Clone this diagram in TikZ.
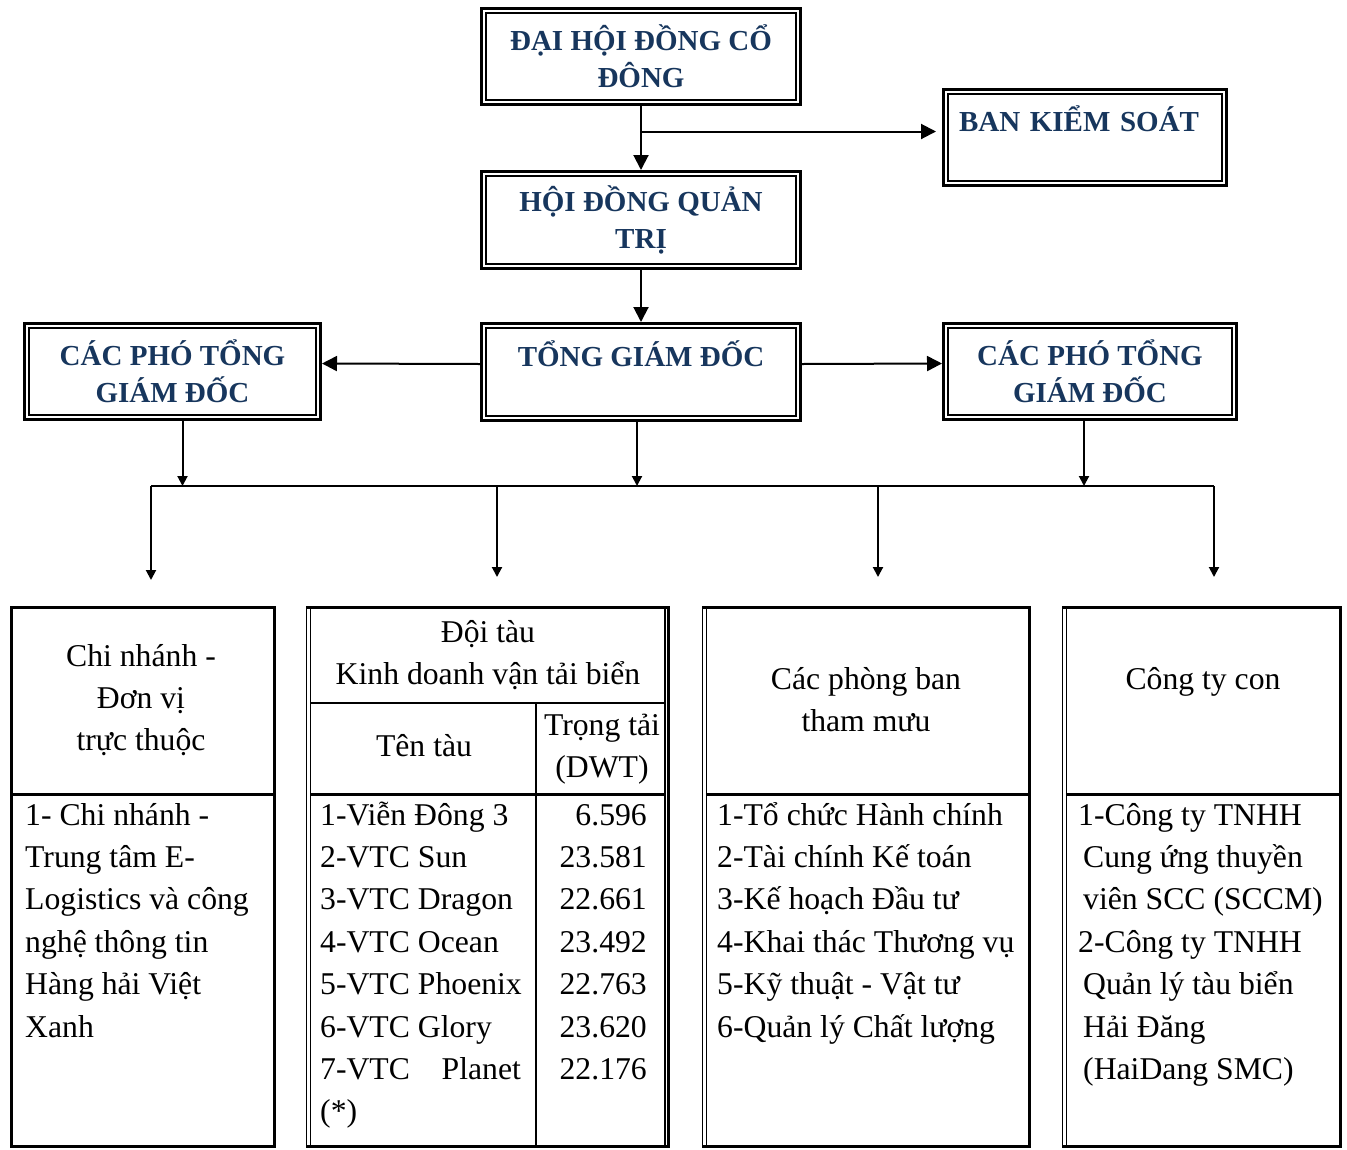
\documentclass[tikz,border=0pt]{standalone}
\usepackage{fontspec}
\setmainfont{Liberation Serif}
\usetikzlibrary{arrows.meta}
\definecolor{hdblue}{RGB}{23,54,93}
\newcommand{\hdfont}{\fontsize{29}{37}\selectfont\bfseries}
\newcommand{\bodyfont}{\fontsize{31.7}{42.4}\selectfont}

\begin{document}
\begin{tikzpicture}[x=1pt, y=-1pt,
  orgbox/.style={draw, line width=3pt, inner sep=0pt, align=center,
    font=\hdfont, text=hdblue,
    path picture={\draw[line width=1.3pt]
      ([shift={(4.5pt,4.5pt)}]path picture bounding box.south west) rectangle
      ([shift={(-4.5pt,-4.5pt)}]path picture bounding box.north east);}},
  arr/.style={line width=2pt, -{Triangle[length=15pt,width=15pt]}},
  arrsmall/.style={line width=2pt, -{Triangle[length=10pt,width=10pt]}},
  thickln/.style={line width=3pt},
  thinln/.style={line width=1.3pt},
  midln/.style={line width=2pt},
  cell/.style={font=\bodyfont, inner sep=0pt},
]
\useasboundingbox (0,0) rectangle (1347,1149);

% cap tren
\node[orgbox, minimum width=319pt, minimum height=96pt] (dhdcd) at (641,56.5) {ĐẠI HỘI ĐỒNG CỔ\\ĐÔNG};
\node[orgbox, minimum width=283pt, minimum height=96pt, text width=252pt, align=left] (bks) at (1085,137.5) {BAN KIỂM SOÁT\\~};
\node[orgbox, minimum width=319pt, minimum height=97pt] (hdqt) at (641,220) {HỘI ĐỒNG QUẢN\\TRỊ};
\node[orgbox, minimum width=319pt, minimum height=97pt] (tgd) at (641,372) {TỔNG GIÁM ĐỐC\\~};
\node[orgbox, minimum width=296pt, minimum height=96pt] (ptgdl) at (172.5,371.5) {CÁC PHÓ TỔNG\\GIÁM ĐỐC};
\node[orgbox, minimum width=293pt, minimum height=96pt] (ptgdr) at (1090,371.5) {CÁC PHÓ TỔNG\\GIÁM ĐỐC};

\draw[arr] (dhdcd.south) -- (hdqt.north);
\draw[arr, shorten >=6pt] ([yshift=6pt]dhdcd.south |- bks.west) -- ([yshift=6pt]bks.west);
\draw[arr] (hdqt.south) -- (tgd.north);
\draw[arr] ([yshift=8pt]tgd.west) -- ([yshift=8pt]ptgdl.east);
\draw[arr] ([yshift=8pt]tgd.east) -- ([yshift=8pt]ptgdr.west);

% thanh ngang
\coordinate (busl) at (151,486);
\coordinate (busr) at (1214,486);
\draw[midln] (busl) -- (busr);
\draw[arrsmall] ([xshift=10pt]ptgdl.south) -- ([xshift=10pt]ptgdl.south |- busl);
\draw[arrsmall] ([xshift=-4pt]tgd.south) -- ([xshift=-4pt]tgd.south |- busl);
\draw[arrsmall] ([xshift=-6pt]ptgdr.south) -- ([xshift=-6pt]ptgdr.south |- busl);

\coordinate (dcn) at (151,580);
\coordinate (ddt) at (497,577);
\coordinate (dpb) at (878,577);
\coordinate (dct) at (1214,577);
\draw[arrsmall] (busl) -- (dcn);
\draw[arrsmall] (ddt |- busl) -- (ddt);
\draw[arrsmall] (dpb |- busl) -- (dpb);
\draw[arrsmall] (busr) -- (dct);

% chi nhanh (base = dong cuoi)
\draw[thickln] (11.5,607.5) rectangle (274,1146.5);
\draw[thickln] (11.5,794) -- (274,794);
\node[cell, align=center, anchor=base] (cnhead) at (141,750.8) {Chi nhánh -\\Đơn vị\\trực thuộc};
\node[cell, align=left, anchor=base west] (cnlist) at (25,1037) {1- Chi nhánh -\\Trung tâm E-\\Logistics và công\\nghệ thông tin\\Hàng hải Việt\\Xanh};

% doi tau
\draw[thickln] (306,607.5) -- (670,607.5);
\draw[thickln] (306,1146.5) -- (670,1146.5);
\draw[thinln] (306.5,607.5) -- (306.5,1146.5);
\draw[thinln] (310.5,607.5) -- (310.5,1146.5);
\draw[thinln] (665,607.5) -- (665,1146.5);
\draw[thickln] (668.5,607.5) -- (668.5,1146.5);
\draw[midln] (310.5,703) -- (665,703);
\draw[thickln] (310.5,794) -- (665,794);
\draw[midln] (536,703) -- (536,1146.5);
\node[cell, align=center, anchor=base] (dthead) at (488,684.4) {Đội tàu\\Kinh doanh vận tải biển};
\node[cell, anchor=base] (tentau) at (424,756) {Tên tàu};
\node[cell, align=center, anchor=base] (trongtai) at (602,777.4) {Trọng tải\\(DWT)};
\node[cell, align=left, anchor=base west] (dslist) at (320,1121.8) {1-Viễn Đông 3\\2-VTC Sun\\3-VTC Dragon\\4-VTC Ocean\\5-VTC Phoenix\\6-VTC Glory\\7-VTC\hspace{1em}Planet\\(*)};
\node[cell, align=right, anchor=base east] (dwtlist) at (647,1079.4) {6.596\\23.581\\22.661\\23.492\\22.763\\23.620\\22.176};

% phong ban
\draw[thickln] (702,607.5) -- (1030.5,607.5);
\draw[thickln] (702,1146.5) -- (1030.5,1146.5);
\draw[thinln] (702.5,607.5) -- (702.5,1146.5);
\draw[thinln] (706.5,607.5) -- (706.5,1146.5);
\draw[thickln] (1029,607.5) -- (1029,1146.5);
\draw[thickln] (706.5,794) -- (1029,794);
\node[cell, align=center, anchor=base] (pbhead) at (866,731.4) {Các phòng ban\\tham mưu};
\node[cell, align=left, anchor=base west] (pblist) at (717,1037) {1-Tổ chức Hành chính\\2-Tài chính Kế toán\\3-Kế hoạch Đầu tư\\4-Khai thác Thương vụ\\5-Kỹ thuật - Vật tư\\6-Quản lý Chất lượng};

% cong ty con
\draw[thickln] (1062,607.5) -- (1342,607.5);
\draw[thickln] (1062,1146.5) -- (1342,1146.5);
\draw[thinln] (1062.5,607.5) -- (1062.5,1146.5);
\draw[thinln] (1066.5,607.5) -- (1066.5,1146.5);
\draw[thickln] (1340.5,607.5) -- (1340.5,1146.5);
\draw[thickln] (1066.5,794) -- (1340.5,794);
\node[cell, anchor=base] (cthead) at (1203,689) {Công ty con};
\node[cell, align=left, anchor=base west] (ctlist) at (1078,1079.4) {1-Công ty TNHH\\\hspace*{5pt}Cung ứng thuyền\\\hspace*{5pt}viên SCC (SCCM)\\2-Công ty TNHH\\\hspace*{5pt}Quản lý tàu biển\\\hspace*{5pt}Hải Đăng\\\hspace*{5pt}(HaiDang SMC)};
\end{tikzpicture}
\end{document}
